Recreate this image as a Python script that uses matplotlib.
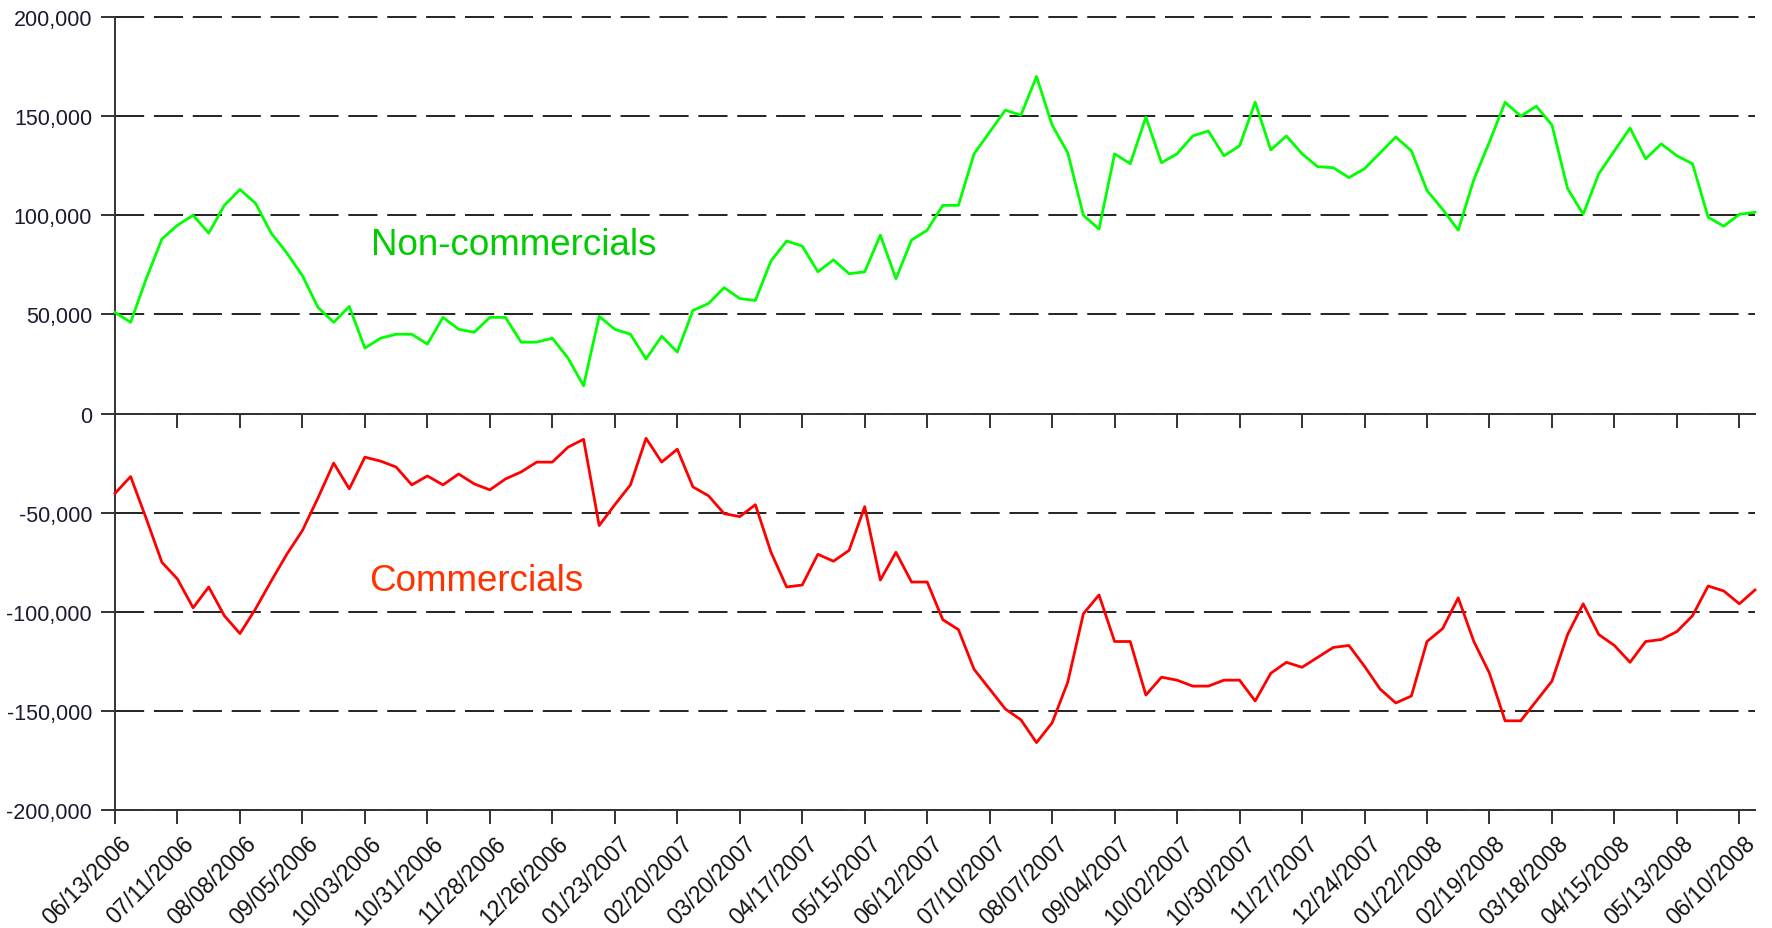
import numpy as np
import matplotlib
matplotlib.use("Agg")
import matplotlib.pyplot as plt
from matplotlib.ticker import FuncFormatter
from matplotlib.transforms import ScaledTranslation

# weekly net positions, 06/13/2006 .. 06/17/2008 (thousands of contracts)
non_commercials = [
    51, 46, 68, 88, 95, 100, 91, 105, 113, 106,
    91, 81, 69.5, 53.5, 46, 54, 33, 38, 40, 40,
    35, 48.5, 42.5, 41, 48.5, 48.5, 36, 36, 38, 28,
    14, 49, 42.5, 40, 27.5, 39, 31, 52, 55.5, 63.5,
    58, 57, 77, 87, 84.5, 71.5, 77.5, 70.5, 71.5, 90,
    68, 87.5, 92.5, 105, 105, 131, 142, 153, 150.5, 170,
    145.5, 131.5, 100, 93, 131, 126, 149.5, 126.5, 131, 140,
    142.5, 130, 135, 157, 133, 140, 131, 124.5, 124, 119,
    123.5, 131.5, 139.5, 132.5, 112.5, 103, 92.5, 118, 137, 157,
    150, 155, 145.5, 113.5, 100.5, 121, 132.5, 144, 128.5, 136,
    130, 126, 99, 94.5, 100.5, 101.5,
]
commercials = [
    -40.3, -31.8, -53, -75, -83.5, -98, -87.5, -102, -111, -98.5,
    -84.5, -71, -59, -42.5, -25, -38, -22, -24, -27, -36,
    -31.5, -36, -30.5, -35.5, -38.5, -33, -29.5, -24.5, -24.5, -17,
    -13, -56.5, -46, -36, -12.5, -24.5, -18, -37, -41.5, -50.5,
    -52, -46, -70, -87.5, -86.5, -71, -74.5, -69, -47, -84,
    -70, -85, -85, -104, -109, -129, -139, -149, -154.5, -166,
    -156, -135.5, -101, -91.5, -115, -115, -142, -133, -134.5, -137.5,
    -137.5, -134.5, -134.5, -145, -131, -125.5, -128, -123, -118, -117,
    -127.5, -139, -146, -142.5, -115, -108.5, -93, -115, -131, -155,
    -155, -145, -135, -111.5, -96, -111.5, -117, -125.5, -115, -114,
    -110, -102, -87, -89.5, -96, -89,
]
date_labels = [
    "06/13/2006", "07/11/2006", "08/08/2006", "09/05/2006", "10/03/2006",
    "10/31/2006", "11/28/2006", "12/26/2006", "01/23/2007", "02/20/2007",
    "03/20/2007", "04/17/2007", "05/15/2007", "06/12/2007", "07/10/2007",
    "08/07/2007", "09/04/2007", "10/02/2007", "10/30/2007", "11/27/2007",
    "12/24/2007", "01/22/2008", "02/19/2008", "03/18/2008", "04/15/2008",
    "05/13/2008", "06/10/2008",
]
label_step = 4  # one label every 4 weeks
top_ticks = [0, 50000, 100000, 150000, 200000]
bottom_ticks = [-200000, -150000, -100000, -50000]

non_comm = np.array(non_commercials) * 1000
comm = np.array(commercials) * 1000
weeks = np.arange(len(non_comm))
tick_pos = np.arange(len(date_labels)) * label_step

plt.rcParams["font.family"] = ["Liberation Sans", "DejaVu Sans"]

fig = plt.figure(figsize=(17.72, 9.29), dpi=100)
ax_top = fig.add_axes([0.0649, 0.5538, 0.9255, 0.4268])
ax_bot = fig.add_axes([0.0649, 0.1270, 0.9255, 0.4268])
ax_bot.patch.set_visible(False)  # keep the ticks of the zero line visible

axis_col = "#333333"
grid_kw = dict(color="#222222", lw=1.4, ls=(0, (15, 5)))
fmt = FuncFormatter(lambda v, p: f"{v:,.0f}")

for ax, ticks, lim in [(ax_top, top_ticks, (0, 200000)),
                       (ax_bot, bottom_ticks, (-200000, 0))]:
    ax.set_xlim(0, 105)
    ax.set_ylim(*lim)
    ax.set_yticks(ticks)
    ax.yaxis.set_major_formatter(fmt)
    ax.set_xticks(tick_pos)
    ax.yaxis.grid(True, **grid_kw)
    for gl in ax.get_ygridlines():
        gl.set_clip_on(False)
    for s in ["top", "right"]:
        ax.spines[s].set_visible(False)
    for s in ["left", "bottom"]:
        ax.spines[s].set_color(axis_col)
        ax.spines[s].set_linewidth(1.4)
    ax.tick_params(direction="out", length=10, width=1.4, color=axis_col,
                   labelsize=15.5, labelcolor="#1a1a33", pad=6.5)

ax_top.tick_params(axis="x", labelbottom=False)

ax_top.plot(weeks, non_comm, color="#00ff00", lw=2.0, zorder=3, clip_on=False)
ax_bot.plot(weeks, comm, color="#ff0000", lw=2.0, zorder=3, clip_on=False)

ax_top.text(16.4, 80500, "Non-commercials", color="#00cc00", fontsize=26.5,
            va="baseline")
ax_bot.text(16.3, -88900, "Commercials", color="#ff3300", fontsize=26.5,
            va="baseline")

ax_bot.set_xticklabels(date_labels, rotation=45, ha="right",
                       rotation_mode="anchor", color="#111111", fontsize=16.5)
ax_bot.tick_params(axis="x", pad=11)
shift = ScaledTranslation(9 / 72, 0, fig.dpi_scale_trans)
for lbl in ax_bot.get_xticklabels():
    lbl.set_va("center")
    lbl.set_transform(lbl.get_transform() + shift)

fig.savefig("out.png", dpi=100, facecolor="white")
